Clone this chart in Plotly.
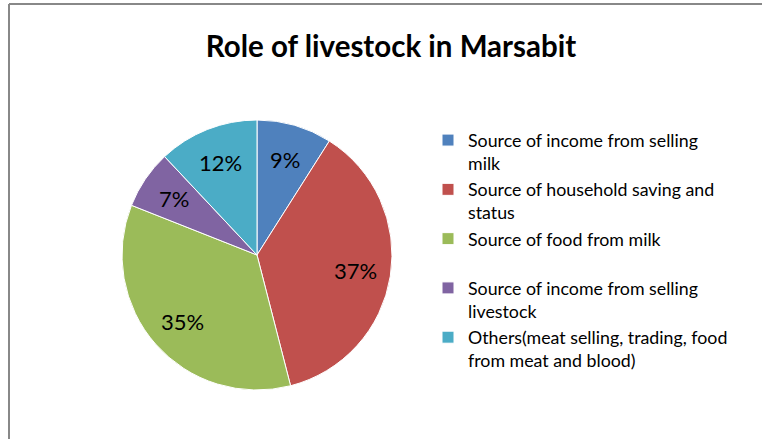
import math
import plotly.graph_objects as go

categories = [
    "Source of income from selling<br>milk",
    "Source of household saving and<br>status",
    "Source of food from milk<br> ",
    "Source of income from selling<br>livestock",
    "Others(meat selling, trading, food<br>from meat and blood)",
]
values = [9, 37, 35, 7, 12]
colors = ["#4F81BD", "#C0504D", "#9BBB59", "#8064A2", "#4BACC6"]
title_text = "Role of livestock in Marsabit"

W, H = 762, 439
FONT = "Lato, 'Open Sans', sans-serif"

# pie geometry in pixels
CX, CY, R = 257, 255, 135
LABEL_FRAC = 0.74

fig = go.Figure(go.Pie(
    labels=categories,
    values=values,
    sort=False,
    direction="clockwise",
    rotation=0,
    marker=dict(colors=colors, line=dict(color="white", width=1)),
    textinfo="none",
    domain=dict(x=[(CX - R) / W, (CX + R) / W], y=[(H - CY - R) / H, (H - CY + R) / H]),
    hoverinfo="label+percent",
))

# percentage labels placed along each slice's bisector
total = sum(values)
annotations = []
cum = 0
for v in values:
    mid = (cum + v / 2) / total
    ang = math.radians(90 - 360 * mid)
    px = CX + LABEL_FRAC * R * math.cos(ang)
    py = CY - LABEL_FRAC * R * math.sin(ang)
    annotations.append(dict(
        x=px / W, y=1 - py / H, xref="paper", yref="paper",
        text=f"{round(100 * v / total)}%", showarrow=False,
        font=dict(size=22, color="black", family=FONT),
        xanchor="center", yanchor="middle",
    ))
    cum += v

fig.update_layout(
    width=W, height=H,
    margin=dict(l=0, r=0, t=0, b=0, autoexpand=False),
    paper_bgcolor="white",
    plot_bgcolor="white",
    font=dict(family=FONT, color="black"),
    title=dict(text="<b>" + title_text + "</b>", x=391 / W, xanchor="center",
               y=1 - 47 / H, yanchor="middle", yref="container",
               font=dict(size=29.5, family=FONT, color="black")),
    legend=dict(x=428 / W, y=1 - 122 / H, xanchor="left", yanchor="top",
                font=dict(size=17.8, family=FONT, color="black"),
                valign="top", tracegroupgap=0, itemwidth=30,
                bgcolor="rgba(0,0,0,0)"),
    showlegend=True,
    annotations=annotations,
    shapes=[
        dict(type="line", xref="paper", yref="paper", x0=9 / W, x1=1.02, y0=1 - 4 / H, y1=1 - 4 / H,
             line=dict(color="#888888", width=2)),
        dict(type="line", xref="paper", yref="paper", x0=9 / W, x1=9 / W, y0=-0.02, y1=1 - 4 / H,
             line=dict(color="#888888", width=2)),
    ],
)

fig.write_html("out.html", config={"displayModeBar": False},
               post_script="document.body.style.margin='0';document.body.style.overflow='hidden';")
